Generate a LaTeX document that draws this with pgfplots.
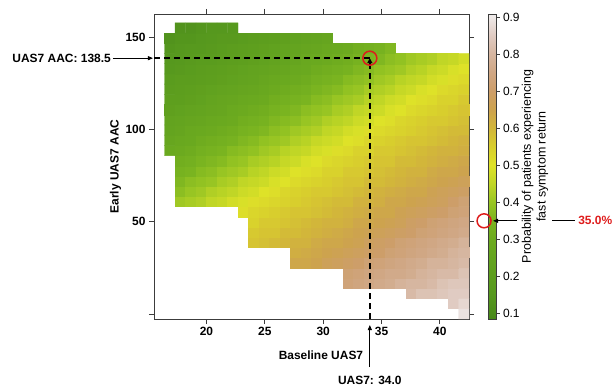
\documentclass[border=0pt]{standalone}
\usepackage{pgfplots}
\pgfplotsset{compat=1.18}
\usepackage{fontspec}
\setmainfont{Liberation Sans}
\usetikzlibrary{arrows.meta}
\definecolor{annred}{RGB}{222,28,28}
\definecolor{axgray}{RGB}{60,60,60}
\pgfplotsset{colormap={terr}{
 rgb255(0pt)=(72,136,26) rgb255(65pt)=(86,152,30) rgb255(115pt)=(93,158,30)
 rgb255(165pt)=(100,164,31) rgb255(215pt)=(108,170,31) rgb255(265pt)=(122,180,32)
 rgb255(315pt)=(152,197,35) rgb255(365pt)=(192,214,38) rgb255(415pt)=(222,226,40)
 rgb255(465pt)=(216,206,45) rgb255(515pt)=(210,182,58) rgb255(565pt)=(205,163,78)
 rgb255(615pt)=(205,158,105) rgb255(665pt)=(208,167,132) rgb255(715pt)=(214,182,160)
 rgb255(765pt)=(224,203,194) rgb255(823pt)=(240,237,237)}}
\newcommand{\tw}{\fontsize{12}{14}\selectfont}
\begin{document}
\begin{tikzpicture}
\path[use as bounding box] (-154bp,-69bp) rectangle (460bp,319bp);
\begin{axis}[
 at={(0,0)}, anchor=south west, scale only axis, width=315bp, height=305bp,
 xmin=15.5, xmax=42.5, ymin=-2.6, ymax=162.4, clip=false, y dir=normal,
 xtick={20,25,30,35,40}, ytick={0,50,100,150}, yticklabels={,50,100,150},
 tick align=outside, major tick length=5bp,
 tick style={axgray, line width=0.8bp},
 axis line style={axgray, line width=0.8bp},
 /pgf/number format/assume math mode=true,
 ticklabel style={font=\tw\bfseries},
 xlabel={Baseline UAS7}, ylabel={Early UAS7 AAC},
 xlabel style={at={(axis description cs:0.53,-0.118)}, anchor=center, font=\tw\bfseries},
 ylabel style={at={(axis description cs:-0.1222,0.5)}, anchor=center, font=\tw\bfseries},
 colormap name=terr, point meta min=0.085, point meta max=0.908,
 colorbar,
 colorbar style={at={(parent axis.north east)}, anchor=north west, xshift=11bp,
   scale only axis, width=8bp, height=305bp,
   ytick={0.1,0.2,0.3,0.4,0.5,0.6,0.7,0.8,0.9},
   yticklabels={0.1,0.2,0.3,0.4,0.5,0.6,0.7,0.8,0.9},
   ytick pos=right, yticklabel pos=right, tick align=outside, major tick length=3bp,
   axis line style={axgray, line width=0.8bp}, tick style={axgray, line width=0.8bp},
   yticklabel style={font=\tw}},
]
\addplot[surf, shader=flat corner, mesh input=image, mesh/cols=29, mesh/rows=29, point meta=explicit, unbounded coords=jump]
table[row sep=\\, meta=p] {
x y p\\
16.85 0.24 nan\\ 17.75 0.24 nan\\ 18.65 0.24 nan\\ 19.55 0.24 nan\\ 20.45 0.24 nan\\ 21.35 0.24 nan\\ 22.25 0.24 nan\\ 23.15 0.24 nan\\ 24.05 0.24 nan\\ 24.95 0.24 nan\\ 25.85 0.24 nan\\ 26.75 0.24 nan\\ 27.65 0.24 nan\\ 28.55 0.24 nan\\ 29.45 0.24 nan\\ 30.35 0.24 nan\\ 31.25 0.24 nan\\ 32.15 0.24 nan\\ 33.05 0.24 nan\\ 33.95 0.24 nan\\ 34.85 0.24 nan\\ 35.75 0.24 nan\\ 36.65 0.24 nan\\ 37.55 0.24 nan\\ 38.45 0.24 nan\\ 39.35 0.24 nan\\ 40.25 0.24 nan\\ 41.15 0.24 nan\\ 42.05 0.24 0.89\\
16.85 5.76 nan\\ 17.75 5.76 nan\\ 18.65 5.76 nan\\ 19.55 5.76 nan\\ 20.45 5.76 nan\\ 21.35 5.76 nan\\ 22.25 5.76 nan\\ 23.15 5.76 nan\\ 24.05 5.76 nan\\ 24.95 5.76 nan\\ 25.85 5.76 nan\\ 26.75 5.76 nan\\ 27.65 5.76 nan\\ 28.55 5.76 nan\\ 29.45 5.76 nan\\ 30.35 5.76 nan\\ 31.25 5.76 nan\\ 32.15 5.76 nan\\ 33.05 5.76 nan\\ 33.95 5.76 nan\\ 34.85 5.76 nan\\ 35.75 5.76 nan\\ 36.65 5.76 nan\\ 37.55 5.76 nan\\ 38.45 5.76 nan\\ 39.35 5.76 nan\\ 40.25 5.76 nan\\ 41.15 5.76 0.85\\ 42.05 5.76 0.87\\
16.85 11.28 nan\\ 17.75 11.28 nan\\ 18.65 11.28 nan\\ 19.55 11.28 nan\\ 20.45 11.28 nan\\ 21.35 11.28 nan\\ 22.25 11.28 nan\\ 23.15 11.28 nan\\ 24.05 11.28 nan\\ 24.95 11.28 nan\\ 25.85 11.28 nan\\ 26.75 11.28 nan\\ 27.65 11.28 nan\\ 28.55 11.28 nan\\ 29.45 11.28 nan\\ 30.35 11.28 nan\\ 31.25 11.28 nan\\ 32.15 11.28 nan\\ 33.05 11.28 nan\\ 33.95 11.28 nan\\ 34.85 11.28 nan\\ 35.75 11.28 nan\\ 36.65 11.28 nan\\ 37.55 11.28 0.81\\ 38.45 11.28 0.83\\ 39.35 11.28 0.83\\ 40.25 11.28 0.84\\ 41.15 11.28 0.85\\ 42.05 11.28 0.85\\
16.85 16.80 nan\\ 17.75 16.80 nan\\ 18.65 16.80 nan\\ 19.55 16.80 nan\\ 20.45 16.80 nan\\ 21.35 16.80 nan\\ 22.25 16.80 nan\\ 23.15 16.80 nan\\ 24.05 16.80 nan\\ 24.95 16.80 nan\\ 25.85 16.80 nan\\ 26.75 16.80 nan\\ 27.65 16.80 nan\\ 28.55 16.80 nan\\ 29.45 16.80 nan\\ 30.35 16.80 nan\\ 31.25 16.80 nan\\ 32.15 16.80 0.73\\ 33.05 16.80 0.74\\ 33.95 16.80 0.75\\ 34.85 16.80 0.76\\ 35.75 16.80 0.77\\ 36.65 16.80 0.79\\ 37.55 16.80 0.80\\ 38.45 16.80 0.80\\ 39.35 16.80 0.81\\ 40.25 16.80 0.83\\ 41.15 16.80 0.84\\ 42.05 16.80 0.84\\
16.85 22.32 nan\\ 17.75 22.32 nan\\ 18.65 22.32 nan\\ 19.55 22.32 nan\\ 20.45 22.32 nan\\ 21.35 22.32 nan\\ 22.25 22.32 nan\\ 23.15 22.32 nan\\ 24.05 22.32 nan\\ 24.95 22.32 nan\\ 25.85 22.32 nan\\ 26.75 22.32 nan\\ 27.65 22.32 nan\\ 28.55 22.32 nan\\ 29.45 22.32 nan\\ 30.35 22.32 nan\\ 31.25 22.32 nan\\ 32.15 22.32 0.72\\ 33.05 22.32 0.73\\ 33.95 22.32 0.74\\ 34.85 22.32 0.75\\ 35.75 22.32 0.76\\ 36.65 22.32 0.76\\ 37.55 22.32 0.77\\ 38.45 22.32 0.79\\ 39.35 22.32 0.80\\ 40.25 22.32 0.81\\ 41.15 22.32 0.81\\ 42.05 22.32 0.83\\
16.85 27.84 nan\\ 17.75 27.84 nan\\ 18.65 27.84 nan\\ 19.55 27.84 nan\\ 20.45 27.84 nan\\ 21.35 27.84 nan\\ 22.25 27.84 nan\\ 23.15 27.84 nan\\ 24.05 27.84 nan\\ 24.95 27.84 nan\\ 25.85 27.84 nan\\ 26.75 27.84 nan\\ 27.65 27.84 0.64\\ 28.55 27.84 0.64\\ 29.45 27.84 0.65\\ 30.35 27.84 0.67\\ 31.25 27.84 0.68\\ 32.15 27.84 0.69\\ 33.05 27.84 0.70\\ 33.95 27.84 0.72\\ 34.85 27.84 0.73\\ 35.75 27.84 0.74\\ 36.65 27.84 0.75\\ 37.55 27.84 0.76\\ 38.45 27.84 0.77\\ 39.35 27.84 0.79\\ 40.25 27.84 0.79\\ 41.15 27.84 0.80\\ 42.05 27.84 0.81\\
16.85 33.36 nan\\ 17.75 33.36 nan\\ 18.65 33.36 nan\\ 19.55 33.36 nan\\ 20.45 33.36 nan\\ 21.35 33.36 nan\\ 22.25 33.36 nan\\ 23.15 33.36 nan\\ 24.05 33.36 nan\\ 24.95 33.36 nan\\ 25.85 33.36 nan\\ 26.75 33.36 nan\\ 27.65 33.36 0.62\\ 28.55 33.36 0.63\\ 29.45 33.36 0.64\\ 30.35 33.36 0.65\\ 31.25 33.36 0.66\\ 32.15 33.36 0.67\\ 33.05 33.36 0.68\\ 33.95 33.36 0.69\\ 34.85 33.36 0.70\\ 35.75 33.36 0.72\\ 36.65 33.36 0.73\\ 37.55 33.36 0.74\\ 38.45 33.36 0.75\\ 39.35 33.36 0.76\\ 40.25 33.36 0.77\\ 41.15 33.36 0.79\\ 42.05 33.36 0.80\\
16.85 38.88 nan\\ 17.75 38.88 nan\\ 18.65 38.88 nan\\ 19.55 38.88 nan\\ 20.45 38.88 nan\\ 21.35 38.88 nan\\ 22.25 38.88 nan\\ 23.15 38.88 nan\\ 24.05 38.88 0.57\\ 24.95 38.88 0.58\\ 25.85 38.88 0.59\\ 26.75 38.88 0.60\\ 27.65 38.88 0.61\\ 28.55 38.88 0.61\\ 29.45 38.88 0.63\\ 30.35 38.88 0.64\\ 31.25 38.88 0.64\\ 32.15 38.88 0.65\\ 33.05 38.88 0.66\\ 33.95 38.88 0.68\\ 34.85 38.88 0.69\\ 35.75 38.88 0.70\\ 36.65 38.88 0.72\\ 37.55 38.88 0.73\\ 38.45 38.88 0.74\\ 39.35 38.88 0.75\\ 40.25 38.88 0.76\\ 41.15 38.88 0.77\\ 42.05 38.88 0.79\\
16.85 44.40 nan\\ 17.75 44.40 nan\\ 18.65 44.40 nan\\ 19.55 44.40 nan\\ 20.45 44.40 nan\\ 21.35 44.40 nan\\ 22.25 44.40 nan\\ 23.15 44.40 nan\\ 24.05 44.40 0.56\\ 24.95 44.40 0.57\\ 25.85 44.40 0.57\\ 26.75 44.40 0.59\\ 27.65 44.40 0.59\\ 28.55 44.40 0.60\\ 29.45 44.40 0.61\\ 30.35 44.40 0.62\\ 31.25 44.40 0.63\\ 32.15 44.40 0.64\\ 33.05 44.40 0.65\\ 33.95 44.40 0.66\\ 34.85 44.40 0.67\\ 35.75 44.40 0.68\\ 36.65 44.40 0.69\\ 37.55 44.40 0.70\\ 38.45 44.40 0.72\\ 39.35 44.40 0.73\\ 40.25 44.40 0.74\\ 41.15 44.40 0.75\\ 42.05 44.40 0.76\\
16.85 49.92 nan\\ 17.75 49.92 nan\\ 18.65 49.92 nan\\ 19.55 49.92 nan\\ 20.45 49.92 nan\\ 21.35 49.92 nan\\ 22.25 49.92 nan\\ 23.15 49.92 nan\\ 24.05 49.92 0.54\\ 24.95 49.92 0.56\\ 25.85 49.92 0.56\\ 26.75 49.92 0.57\\ 27.65 49.92 0.58\\ 28.55 49.92 0.59\\ 29.45 49.92 0.60\\ 30.35 49.92 0.61\\ 31.25 49.92 0.61\\ 32.15 49.92 0.62\\ 33.05 49.92 0.64\\ 33.95 49.92 0.64\\ 34.85 49.92 0.65\\ 35.75 49.92 0.66\\ 36.65 49.92 0.67\\ 37.55 49.92 0.69\\ 38.45 49.92 0.70\\ 39.35 49.92 0.72\\ 40.25 49.92 0.73\\ 41.15 49.92 0.74\\ 42.05 49.92 0.75\\
16.85 55.44 nan\\ 17.75 55.44 nan\\ 18.65 55.44 nan\\ 19.55 55.44 nan\\ 20.45 55.44 nan\\ 21.35 55.44 nan\\ 22.25 55.44 nan\\ 23.15 55.44 0.51\\ 24.05 55.44 0.53\\ 24.95 55.44 0.54\\ 25.85 55.44 0.55\\ 26.75 55.44 0.56\\ 27.65 55.44 0.57\\ 28.55 55.44 0.57\\ 29.45 55.44 0.58\\ 30.35 55.44 0.59\\ 31.25 55.44 0.60\\ 32.15 55.44 0.61\\ 33.05 55.44 0.62\\ 33.95 55.44 0.63\\ 34.85 55.44 0.64\\ 35.75 55.44 0.64\\ 36.65 55.44 0.66\\ 37.55 55.44 0.67\\ 38.45 55.44 0.68\\ 39.35 55.44 0.69\\ 40.25 55.44 0.70\\ 41.15 55.44 0.72\\ 42.05 55.44 0.73\\
16.85 60.96 nan\\ 17.75 60.96 0.41\\ 18.65 60.96 0.42\\ 19.55 60.96 0.43\\ 20.45 60.96 0.45\\ 21.35 60.96 0.46\\ 22.25 60.96 0.48\\ 23.15 60.96 0.49\\ 24.05 60.96 0.51\\ 24.95 60.96 0.52\\ 25.85 60.96 0.53\\ 26.75 60.96 0.54\\ 27.65 60.96 0.55\\ 28.55 60.96 0.56\\ 29.45 60.96 0.57\\ 30.35 60.96 0.58\\ 31.25 60.96 0.59\\ 32.15 60.96 0.59\\ 33.05 60.96 0.61\\ 33.95 60.96 0.61\\ 34.85 60.96 0.62\\ 35.75 60.96 0.64\\ 36.65 60.96 0.64\\ 37.55 60.96 0.65\\ 38.45 60.96 0.66\\ 39.35 60.96 0.67\\ 40.25 60.96 0.68\\ 41.15 60.96 0.70\\ 42.05 60.96 0.72\\
16.85 66.48 nan\\ 17.75 66.48 0.38\\ 18.65 66.48 0.40\\ 19.55 66.48 0.41\\ 20.45 66.48 0.43\\ 21.35 66.48 0.44\\ 22.25 66.48 0.45\\ 23.15 66.48 0.47\\ 24.05 66.48 0.48\\ 24.95 66.48 0.50\\ 25.85 66.48 0.51\\ 26.75 66.48 0.53\\ 27.65 66.48 0.54\\ 28.55 66.48 0.55\\ 29.45 66.48 0.56\\ 30.35 66.48 0.56\\ 31.25 66.48 0.57\\ 32.15 66.48 0.58\\ 33.05 66.48 0.59\\ 33.95 66.48 0.60\\ 34.85 66.48 0.61\\ 35.75 66.48 0.62\\ 36.65 66.48 0.63\\ 37.55 66.48 0.64\\ 38.45 66.48 0.64\\ 39.35 66.48 0.66\\ 40.25 66.48 0.67\\ 41.15 66.48 0.68\\ 42.05 66.48 0.69\\
16.85 72.00 nan\\ 17.75 72.00 0.36\\ 18.65 72.00 0.38\\ 19.55 72.00 0.39\\ 20.45 72.00 0.40\\ 21.35 72.00 0.42\\ 22.25 72.00 0.43\\ 23.15 72.00 0.45\\ 24.05 72.00 0.46\\ 24.95 72.00 0.47\\ 25.85 72.00 0.49\\ 26.75 72.00 0.50\\ 27.65 72.00 0.52\\ 28.55 72.00 0.53\\ 29.45 72.00 0.54\\ 30.35 72.00 0.55\\ 31.25 72.00 0.56\\ 32.15 72.00 0.57\\ 33.05 72.00 0.57\\ 33.95 72.00 0.59\\ 34.85 72.00 0.59\\ 35.75 72.00 0.60\\ 36.65 72.00 0.61\\ 37.55 72.00 0.62\\ 38.45 72.00 0.63\\ 39.35 72.00 0.64\\ 40.25 72.00 0.65\\ 41.15 72.00 0.66\\ 42.05 72.00 0.67\\
16.85 77.52 nan\\ 17.75 77.52 0.34\\ 18.65 77.52 0.35\\ 19.55 77.52 0.37\\ 20.45 77.52 0.38\\ 21.35 77.52 0.40\\ 22.25 77.52 0.41\\ 23.15 77.52 0.42\\ 24.05 77.52 0.44\\ 24.95 77.52 0.45\\ 25.85 77.52 0.47\\ 26.75 77.52 0.48\\ 27.65 77.52 0.50\\ 28.55 77.52 0.51\\ 29.45 77.52 0.52\\ 30.35 77.52 0.54\\ 31.25 77.52 0.54\\ 32.15 77.52 0.56\\ 33.05 77.52 0.56\\ 33.95 77.52 0.57\\ 34.85 77.52 0.58\\ 35.75 77.52 0.59\\ 36.65 77.52 0.60\\ 37.55 77.52 0.61\\ 38.45 77.52 0.61\\ 39.35 77.52 0.63\\ 40.25 77.52 0.64\\ 41.15 77.52 0.64\\ 42.05 77.52 0.65\\
16.85 83.04 nan\\ 17.75 83.04 0.32\\ 18.65 83.04 0.33\\ 19.55 83.04 0.35\\ 20.45 83.04 0.36\\ 21.35 83.04 0.37\\ 22.25 83.04 0.39\\ 23.15 83.04 0.40\\ 24.05 83.04 0.42\\ 24.95 83.04 0.43\\ 25.85 83.04 0.44\\ 26.75 83.04 0.46\\ 27.65 83.04 0.47\\ 28.55 83.04 0.49\\ 29.45 83.04 0.50\\ 30.35 83.04 0.52\\ 31.25 83.04 0.53\\ 32.15 83.04 0.54\\ 33.05 83.04 0.55\\ 33.95 83.04 0.56\\ 34.85 83.04 0.57\\ 35.75 83.04 0.57\\ 36.65 83.04 0.59\\ 37.55 83.04 0.59\\ 38.45 83.04 0.60\\ 39.35 83.04 0.61\\ 40.25 83.04 0.62\\ 41.15 83.04 0.63\\ 42.05 83.04 0.64\\
16.85 88.56 0.29\\ 17.75 88.56 0.30\\ 18.65 88.56 0.31\\ 19.55 88.56 0.33\\ 20.45 88.56 0.34\\ 21.35 88.56 0.35\\ 22.25 88.56 0.37\\ 23.15 88.56 0.38\\ 24.05 88.56 0.39\\ 24.95 88.56 0.41\\ 25.85 88.56 0.42\\ 26.75 88.56 0.44\\ 27.65 88.56 0.45\\ 28.55 88.56 0.46\\ 29.45 88.56 0.48\\ 30.35 88.56 0.49\\ 31.25 88.56 0.51\\ 32.15 88.56 0.52\\ 33.05 88.56 0.54\\ 33.95 88.56 0.54\\ 34.85 88.56 0.56\\ 35.75 88.56 0.56\\ 36.65 88.56 0.57\\ 37.55 88.56 0.58\\ 38.45 88.56 0.59\\ 39.35 88.56 0.60\\ 40.25 88.56 0.61\\ 41.15 88.56 0.61\\ 42.05 88.56 0.62\\
16.85 94.08 0.27\\ 17.75 94.08 0.28\\ 18.65 94.08 0.29\\ 19.55 94.08 0.31\\ 20.45 94.08 0.32\\ 21.35 94.08 0.33\\ 22.25 94.08 0.34\\ 23.15 94.08 0.36\\ 24.05 94.08 0.37\\ 24.95 94.08 0.39\\ 25.85 94.08 0.40\\ 26.75 94.08 0.41\\ 27.65 94.08 0.43\\ 28.55 94.08 0.44\\ 29.45 94.08 0.46\\ 30.35 94.08 0.47\\ 31.25 94.08 0.48\\ 32.15 94.08 0.50\\ 33.05 94.08 0.51\\ 33.95 94.08 0.53\\ 34.85 94.08 0.54\\ 35.75 94.08 0.55\\ 36.65 94.08 0.56\\ 37.55 94.08 0.57\\ 38.45 94.08 0.57\\ 39.35 94.08 0.58\\ 40.25 94.08 0.59\\ 41.15 94.08 0.60\\ 42.05 94.08 0.61\\
16.85 99.60 0.25\\ 17.75 99.60 0.26\\ 18.65 99.60 0.28\\ 19.55 99.60 0.29\\ 20.45 99.60 0.30\\ 21.35 99.60 0.31\\ 22.25 99.60 0.32\\ 23.15 99.60 0.34\\ 24.05 99.60 0.35\\ 24.95 99.60 0.36\\ 25.85 99.60 0.38\\ 26.75 99.60 0.39\\ 27.65 99.60 0.41\\ 28.55 99.60 0.42\\ 29.45 99.60 0.43\\ 30.35 99.60 0.45\\ 31.25 99.60 0.46\\ 32.15 99.60 0.48\\ 33.05 99.60 0.49\\ 33.95 99.60 0.51\\ 34.85 99.60 0.52\\ 35.75 99.60 0.53\\ 36.65 99.60 0.54\\ 37.55 99.60 0.55\\ 38.45 99.60 0.56\\ 39.35 99.60 0.57\\ 40.25 99.60 0.58\\ 41.15 99.60 0.59\\ 42.05 99.60 0.59\\
16.85 105.12 0.24\\ 17.75 105.12 0.25\\ 18.65 105.12 0.26\\ 19.55 105.12 0.27\\ 20.45 105.12 0.28\\ 21.35 105.12 0.29\\ 22.25 105.12 0.30\\ 23.15 105.12 0.32\\ 24.05 105.12 0.33\\ 24.95 105.12 0.34\\ 25.85 105.12 0.36\\ 26.75 105.12 0.37\\ 27.65 105.12 0.38\\ 28.55 105.12 0.40\\ 29.45 105.12 0.41\\ 30.35 105.12 0.43\\ 31.25 105.12 0.44\\ 32.15 105.12 0.45\\ 33.05 105.12 0.47\\ 33.95 105.12 0.48\\ 34.85 105.12 0.50\\ 35.75 105.12 0.51\\ 36.65 105.12 0.53\\ 37.55 105.12 0.54\\ 38.45 105.12 0.55\\ 39.35 105.12 0.56\\ 40.25 105.12 0.56\\ 41.15 105.12 0.57\\ 42.05 105.12 0.58\\
16.85 110.64 0.22\\ 17.75 110.64 0.23\\ 18.65 110.64 0.24\\ 19.55 110.64 0.25\\ 20.45 110.64 0.26\\ 21.35 110.64 0.27\\ 22.25 110.64 0.29\\ 23.15 110.64 0.30\\ 24.05 110.64 0.31\\ 24.95 110.64 0.32\\ 25.85 110.64 0.34\\ 26.75 110.64 0.35\\ 27.65 110.64 0.36\\ 28.55 110.64 0.38\\ 29.45 110.64 0.39\\ 30.35 110.64 0.40\\ 31.25 110.64 0.42\\ 32.15 110.64 0.43\\ 33.05 110.64 0.45\\ 33.95 110.64 0.46\\ 34.85 110.64 0.47\\ 35.75 110.64 0.49\\ 36.65 110.64 0.50\\ 37.55 110.64 0.52\\ 38.45 110.64 0.53\\ 39.35 110.64 0.54\\ 40.25 110.64 0.55\\ 41.15 110.64 0.56\\ 42.05 110.64 0.57\\
16.85 116.16 0.21\\ 17.75 116.16 0.21\\ 18.65 116.16 0.22\\ 19.55 116.16 0.23\\ 20.45 116.16 0.25\\ 21.35 116.16 0.26\\ 22.25 116.16 0.27\\ 23.15 116.16 0.28\\ 24.05 116.16 0.29\\ 24.95 116.16 0.30\\ 25.85 116.16 0.32\\ 26.75 116.16 0.33\\ 27.65 116.16 0.34\\ 28.55 116.16 0.35\\ 29.45 116.16 0.37\\ 30.35 116.16 0.38\\ 31.25 116.16 0.40\\ 32.15 116.16 0.41\\ 33.05 116.16 0.42\\ 33.95 116.16 0.44\\ 34.85 116.16 0.45\\ 35.75 116.16 0.47\\ 36.65 116.16 0.48\\ 37.55 116.16 0.50\\ 38.45 116.16 0.51\\ 39.35 116.16 0.52\\ 40.25 116.16 0.54\\ 41.15 116.16 0.54\\ 42.05 116.16 0.56\\
16.85 121.68 0.19\\ 17.75 121.68 0.20\\ 18.65 121.68 0.21\\ 19.55 121.68 0.22\\ 20.45 121.68 0.23\\ 21.35 121.68 0.24\\ 22.25 121.68 0.25\\ 23.15 121.68 0.26\\ 24.05 121.68 0.27\\ 24.95 121.68 0.28\\ 25.85 121.68 0.30\\ 26.75 121.68 0.31\\ 27.65 121.68 0.32\\ 28.55 121.68 0.33\\ 29.45 121.68 0.35\\ 30.35 121.68 0.36\\ 31.25 121.68 0.37\\ 32.15 121.68 0.39\\ 33.05 121.68 0.40\\ 33.95 121.68 0.42\\ 34.85 121.68 0.43\\ 35.75 121.68 0.44\\ 36.65 121.68 0.46\\ 37.55 121.68 0.47\\ 38.45 121.68 0.49\\ 39.35 121.68 0.50\\ 40.25 121.68 0.52\\ 41.15 121.68 0.53\\ 42.05 121.68 0.54\\
16.85 127.20 0.18\\ 17.75 127.20 0.19\\ 18.65 127.20 0.19\\ 19.55 127.20 0.20\\ 20.45 127.20 0.21\\ 21.35 127.20 0.22\\ 22.25 127.20 0.23\\ 23.15 127.20 0.24\\ 24.05 127.20 0.25\\ 24.95 127.20 0.27\\ 25.85 127.20 0.28\\ 26.75 127.20 0.29\\ 27.65 127.20 0.30\\ 28.55 127.20 0.31\\ 29.45 127.20 0.33\\ 30.35 127.20 0.34\\ 31.25 127.20 0.35\\ 32.15 127.20 0.37\\ 33.05 127.20 0.38\\ 33.95 127.20 0.39\\ 34.85 127.20 0.41\\ 35.75 127.20 0.42\\ 36.65 127.20 0.44\\ 37.55 127.20 0.45\\ 38.45 127.20 0.46\\ 39.35 127.20 0.48\\ 40.25 127.20 0.49\\ 41.15 127.20 0.51\\ 42.05 127.20 0.52\\
16.85 132.72 0.16\\ 17.75 132.72 0.17\\ 18.65 132.72 0.18\\ 19.55 132.72 0.19\\ 20.45 132.72 0.20\\ 21.35 132.72 0.21\\ 22.25 132.72 0.22\\ 23.15 132.72 0.23\\ 24.05 132.72 0.24\\ 24.95 132.72 0.25\\ 25.85 132.72 0.26\\ 26.75 132.72 0.27\\ 27.65 132.72 0.28\\ 28.55 132.72 0.29\\ 29.45 132.72 0.31\\ 30.35 132.72 0.32\\ 31.25 132.72 0.33\\ 32.15 132.72 0.34\\ 33.05 132.72 0.36\\ 33.95 132.72 0.37\\ 34.85 132.72 0.39\\ 35.75 132.72 0.40\\ 36.65 132.72 0.41\\ 37.55 132.72 0.43\\ 38.45 132.72 0.44\\ 39.35 132.72 0.46\\ 40.25 132.72 0.47\\ 41.15 132.72 0.49\\ 42.05 132.72 0.50\\
16.85 138.24 0.15\\ 17.75 138.24 0.16\\ 18.65 138.24 0.17\\ 19.55 138.24 0.18\\ 20.45 138.24 0.18\\ 21.35 138.24 0.19\\ 22.25 138.24 0.20\\ 23.15 138.24 0.21\\ 24.05 138.24 0.22\\ 24.95 138.24 0.23\\ 25.85 138.24 0.24\\ 26.75 138.24 0.25\\ 27.65 138.24 0.26\\ 28.55 138.24 0.28\\ 29.45 138.24 0.29\\ 30.35 138.24 0.30\\ 31.25 138.24 0.31\\ 32.15 138.24 0.32\\ 33.05 138.24 0.34\\ 33.95 138.24 0.35\\ 34.85 138.24 0.36\\ 35.75 138.24 0.38\\ 36.65 138.24 0.39\\ 37.55 138.24 0.41\\ 38.45 138.24 0.42\\ 39.35 138.24 0.43\\ 40.25 138.24 0.45\\ 41.15 138.24 0.46\\ 42.05 138.24 0.48\\
16.85 143.76 0.14\\ 17.75 143.76 0.15\\ 18.65 143.76 0.16\\ 19.55 143.76 0.16\\ 20.45 143.76 0.17\\ 21.35 143.76 0.18\\ 22.25 143.76 0.19\\ 23.15 143.76 0.20\\ 24.05 143.76 0.21\\ 24.95 143.76 0.22\\ 25.85 143.76 0.23\\ 26.75 143.76 0.24\\ 27.65 143.76 0.25\\ 28.55 143.76 0.26\\ 29.45 143.76 0.27\\ 30.35 143.76 0.28\\ 31.25 143.76 0.29\\ 32.15 143.76 0.30\\ 33.05 143.76 0.32\\ 33.95 143.76 0.33\\ 34.85 143.76 0.34\\ 35.75 143.76 0.36\\ 36.65 143.76 nan\\ 37.55 143.76 nan\\ 38.45 143.76 nan\\ 39.35 143.76 nan\\ 40.25 143.76 nan\\ 41.15 143.76 nan\\ 42.05 143.76 nan\\
16.85 149.28 0.13\\ 17.75 149.28 0.14\\ 18.65 149.28 0.14\\ 19.55 149.28 0.15\\ 20.45 149.28 0.16\\ 21.35 149.28 0.17\\ 22.25 149.28 0.17\\ 23.15 149.28 0.18\\ 24.05 149.28 0.19\\ 24.95 149.28 0.20\\ 25.85 149.28 0.21\\ 26.75 149.28 0.22\\ 27.65 149.28 0.23\\ 28.55 149.28 0.24\\ 29.45 149.28 0.25\\ 30.35 149.28 0.26\\ 31.25 149.28 nan\\ 32.15 149.28 nan\\ 33.05 149.28 nan\\ 33.95 149.28 nan\\ 34.85 149.28 nan\\ 35.75 149.28 nan\\ 36.65 149.28 nan\\ 37.55 149.28 nan\\ 38.45 149.28 nan\\ 39.35 149.28 nan\\ 40.25 149.28 nan\\ 41.15 149.28 nan\\ 42.05 149.28 nan\\
16.85 154.80 nan\\ 17.75 154.80 0.13\\ 18.65 154.80 0.13\\ 19.55 154.80 0.14\\ 20.45 154.80 0.15\\ 21.35 154.80 0.15\\ 22.25 154.80 0.16\\ 23.15 154.80 nan\\ 24.05 154.80 nan\\ 24.95 154.80 nan\\ 25.85 154.80 nan\\ 26.75 154.80 nan\\ 27.65 154.80 nan\\ 28.55 154.80 nan\\ 29.45 154.80 nan\\ 30.35 154.80 nan\\ 31.25 154.80 nan\\ 32.15 154.80 nan\\ 33.05 154.80 nan\\ 33.95 154.80 nan\\ 34.85 154.80 nan\\ 35.75 154.80 nan\\ 36.65 154.80 nan\\ 37.55 154.80 nan\\ 38.45 154.80 nan\\ 39.35 154.80 nan\\ 40.25 154.80 nan\\ 41.15 154.80 nan\\ 42.05 154.80 nan\\
};
\addplot[black, line width=1.5bp, dash pattern=on 6bp off 4bp] coordinates {(15.5,138.5) (34,138.5)};
\addplot[black, line width=1.5bp, dash pattern=on 6bp off 4bp, -{Triangle[length=5bp,width=5bp]}] coordinates {(34,-2.6) (34,138.5)};
\addplot[annred, only marks, mark=o, mark size=7bp, line width=1.5bp] coordinates {(34,138.5)};
\coordinate (L) at (axis cs:15.5,138.5);
\coordinate (B) at (axis cs:34,-2.6);
\coordinate (C) at (axis cs:43.79,50.52);
\end{axis}
\draw[black, line width=0.9bp, -{Triangle[length=5bp,width=4bp]}] ([xshift=-41bp]L) -- ([xshift=-1bp]L);
\node[anchor=east, font=\tw\bfseries, inner sep=1bp] at ([xshift=-42bp]L) {UAS7 AAC: 138.5};
\draw[black, line width=0.9bp, -{Triangle[length=5bp,width=4bp]}] ([yshift=-48bp]B) -- ([yshift=-6bp]B);
\node[anchor=center, font=\tw\bfseries] at ([yshift=-61bp]B) {UAS7: 34.0};
\draw[annred, line width=1.5bp] (C) circle[radius=7bp];
\draw[black, line width=0.9bp, -{Triangle[length=5bp,width=4bp]}] ([xshift=33bp]C) -- ([xshift=9bp]C);
\draw[black, line width=0.9bp] ([xshift=68bp]C) -- ([xshift=91bp]C);
\node[anchor=west, font=\tw\bfseries, text=annred, inner sep=1bp] at ([xshift=93bp]C) {35.0\%};
\node[rotate=90, align=center, font=\fontsize{12.5}{15}\selectfont] at (381bp,152.5bp) {Probability of patients experiencing\\fast symptom return};
\end{tikzpicture}
\end{document}
